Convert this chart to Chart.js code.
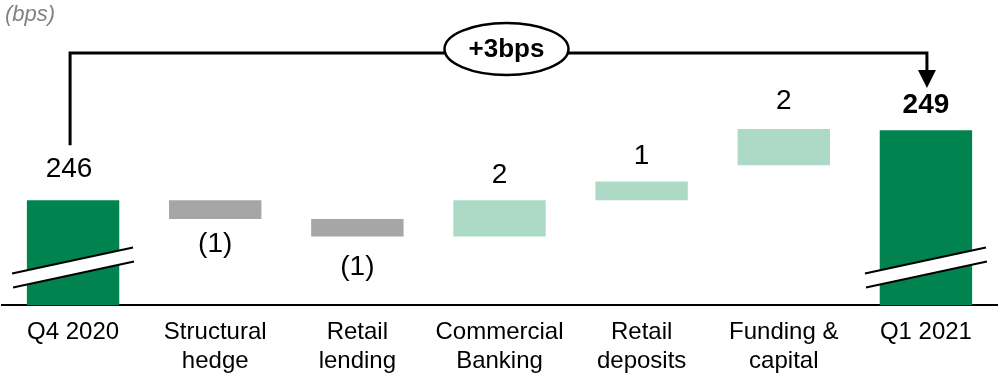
<!DOCTYPE html>
<html>
<head>
<meta charset="utf-8">
<script src="https://cdn.jsdelivr.net/npm/chart.js@4.4.1/dist/chart.umd.min.js"></script>
<style>
  html, body { margin: 0; padding: 0; background: #fff; }
  #wrap { position: relative; width: 1000px; height: 377px; }
  #unit { position: absolute; left: 5px; top: 1px; font: italic 22px "Liberation Sans", Arial, sans-serif; color: #828282; }
</style>
</head>
<body>
<div id="wrap">
  <canvas id="myChart" width="1000" height="377"></canvas>
  <div id="unit">(bps)</div>
</div>
<script>
// categories on the x axis
var categories = ['Q4 2020', ['Structural', 'hedge'], ['Retail', 'lending'], ['Commercial', 'Banking'], ['Retail', 'deposits'], ['Funding &', 'capital'], 'Q1 2021'];
// bar kind: total or step
var kinds = ['total', 'down', 'down', 'up', 'up', 'up', 'total'];
// where each bar starts and ends (bps; totals start at the broken axis)
var stepFrom = [241.5, 246.0, 245.2, 244.45, 246.0, 247.5, 241.5];
var stepTo = [246.0, 245.2, 244.45, 246.0, 246.8, 249.05, 249.0];
// printed values
var valueLabels = ['246', '(1)', '(1)', '2', '1', '2', '249'];
var totalStart = 246;
var totalEnd = 249;

var colours = { total: '#00834f', down: '#a6a6a6', up: '#acdac7' };
var font = '"Liberation Sans", Arial, sans-serif';
// small label nudges seen in the picture: [dx, extra gap]
var labelNudge = [[-4, 6], [0, 0], [0, 6], [0, 0], [0, 0], [0, 3], [0, 0]];

const annotate = {
    id: 'annotate',
    afterDatasetsDraw(chart) {
        const ctx = chart.ctx;
        const bars = chart.getDatasetMeta(0).data;
        const bottom = chart.chartArea.bottom;
        ctx.save();

        // axis break marks on the total bars
        kinds.forEach(function (k, i) {
            if (k !== 'total') return;
            const x = bars[i].x;
            ctx.beginPath();
            ctx.moveTo(x - 61, bottom - 32);
            ctx.lineTo(x + 60, bottom - 58);
            ctx.lineTo(x + 61, bottom - 44);
            ctx.lineTo(x - 60, bottom - 18);
            ctx.closePath();
            ctx.fillStyle = '#fff';
            ctx.fill();
            ctx.strokeStyle = '#000';
            ctx.lineWidth = 2;
            ctx.beginPath();
            ctx.moveTo(x - 61, bottom - 32);
            ctx.lineTo(x + 60, bottom - 58);
            ctx.moveTo(x - 60, bottom - 18);
            ctx.lineTo(x + 61, bottom - 44);
            ctx.stroke();
        });

        // value labels
        ctx.fillStyle = '#000';
        ctx.textAlign = 'center';
        ctx.textBaseline = 'middle';
        bars.forEach(function (bar, i) {
            const last = i === bars.length - 1;
            const n = labelNudge[i];
            ctx.font = (last ? 'bold ' : '') + '28px ' + font;
            if (kinds[i] === 'down') {
                ctx.fillText(valueLabels[i], bar.x + n[0], bar.base + 25 + n[1]);
            } else {
                ctx.fillText(valueLabels[i], bar.x + n[0], Math.min(bar.y, bar.base) - 25 - n[1]);
            }
        });

        // bracket with the total change
        const x0 = bars[0].x - 3, x1 = bars[bars.length - 1].x + 1;
        const top = 53;
        ctx.strokeStyle = '#000';
        ctx.lineWidth = 3;
        ctx.beginPath();
        ctx.moveTo(x0, bars[0].y - 55);
        ctx.lineTo(x0, top);
        ctx.lineTo(x1, top);
        ctx.lineTo(x1, 72);
        ctx.stroke();
        ctx.beginPath();
        ctx.moveTo(x1 - 9, 70);
        ctx.lineTo(x1 + 9, 70);
        ctx.lineTo(x1, 88);
        ctx.closePath();
        ctx.fillStyle = '#000';
        ctx.fill();

        const cx = (x0 + x1) / 2 + 8;
        ctx.beginPath();
        ctx.ellipse(cx, 49, 62, 26, 0, 0, Math.PI * 2);
        ctx.fillStyle = '#fff';
        ctx.fill();
        ctx.lineWidth = 2.5;
        ctx.stroke();
        ctx.fillStyle = '#000';
        ctx.font = 'bold 26px ' + font;
        const diff = totalEnd - totalStart;
        ctx.fillText((diff >= 0 ? '+' : '') + diff + 'bps', cx, 50);
        ctx.restore();
    }
};

const ctx = document.getElementById('myChart');
new Chart(ctx, {
    type: 'bar',
    data: {
        labels: categories,
        datasets: [
            {
                data: categories.map(function (c, i) { return [stepFrom[i], stepTo[i]]; }),
                backgroundColor: kinds.map(function (k) { return colours[k]; }),
                borderWidth: 0,
                borderSkipped: false,
                barPercentage: 0.65,
                categoryPercentage: 1
            }
        ]
    },
    options: {
        responsive: false,
        animation: false,
        layout: { padding: { left: 2, right: 3, top: 0, bottom: -12 } },
        plugins: {
            legend: { display: false },
            tooltip: { enabled: false }
        },
        scales: {
            x: {
                grid: { display: false, drawTicks: false },
                border: { display: true, color: '#000', width: 2 },
                ticks: {
                    color: '#000',
                    padding: 13,
                    maxRotation: 0,
                    autoSkip: false,
                    font: { family: font, size: 24, lineHeight: 1.2 }
                }
            },
            y: {
                display: false,
                min: 241.5,
                max: 254.57
            }
        }
    },
    plugins: [annotate]
});
</script>
</body>
</html>
